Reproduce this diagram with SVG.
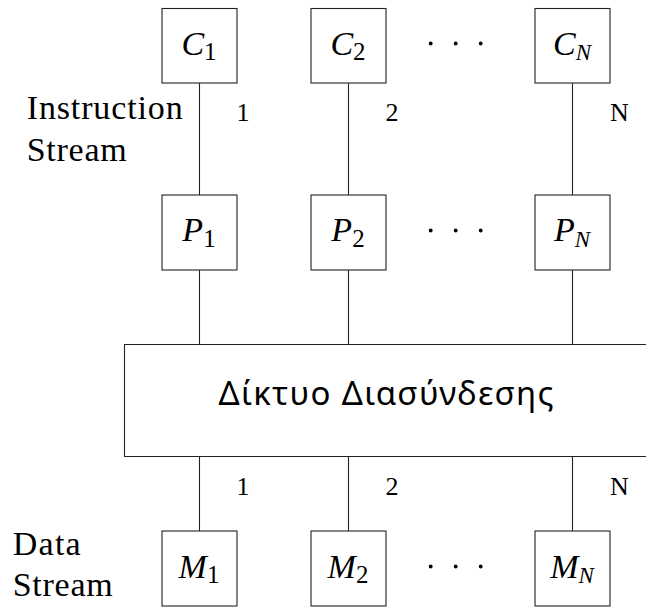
<svg xmlns="http://www.w3.org/2000/svg" width="646" height="607" viewBox="0 0 646 607">
<style>
.box{fill:#fff;stroke:#222;stroke-width:1.1}
.ln{stroke:#222;stroke-width:1.1;fill:none}
.lbl{font-family:'Liberation Serif','DejaVu Serif',serif;font-size:34px;fill:#000}
.num{font-family:'Liberation Serif','DejaVu Serif',serif;font-size:26px;fill:#000;text-anchor:middle}
.math{font-family:'Liberation Serif','DejaVu Serif',serif;font-size:34px;font-style:italic;fill:#000;text-anchor:middle}
.sub{font-size:25px;font-style:normal}
.subi{font-size:23px;font-style:italic}
.net{font-family:'Noto Sans','DejaVu Sans',sans-serif;font-size:33px;fill:#000;text-anchor:middle}
.dot{fill:#000}
</style>
<rect width="646" height="607" fill="#fff"/>
<g id="connectors">
<line class="ln" x1="199.5" y1="83" x2="199.5" y2="195"/>
<line class="ln" x1="348.5" y1="83" x2="348.5" y2="195"/>
<line class="ln" x1="572.5" y1="83" x2="572.5" y2="195"/>
<line class="ln" x1="199.5" y1="270" x2="199.5" y2="344.5"/>
<line class="ln" x1="348.5" y1="270" x2="348.5" y2="344.5"/>
<line class="ln" x1="572.5" y1="270" x2="572.5" y2="344.5"/>
<line class="ln" x1="199.5" y1="456.5" x2="199.5" y2="531"/>
<line class="ln" x1="348.5" y1="456.5" x2="348.5" y2="531"/>
<line class="ln" x1="572.5" y1="456.5" x2="572.5" y2="531"/>
<text class="num" x="243" y="121">1</text>
<text class="num" x="392" y="121">2</text>
<text class="num" x="619.5" y="121">N</text>
<text class="num" x="243" y="494.5">1</text>
<text class="num" x="392" y="494.5">2</text>
<text class="num" x="619.5" y="494.5">N</text>
</g>
<g id="labels">
<text class="lbl" x="26.7" y="119" textLength="156" lengthAdjust="spacing">Instruction</text>
<text class="lbl" x="26.7" y="161" textLength="100" lengthAdjust="spacing">Stream</text>
<text class="lbl" x="12.7" y="555" textLength="68" lengthAdjust="spacing">Data</text>
<text class="lbl" x="12.7" y="596" textLength="100" lengthAdjust="spacing">Stream</text>
</g>
<g id="C1"><rect class="box" x="162" y="8.5" width="75" height="74.5"/><text class="math" x="199" y="55">C<tspan class="sub" dy="5">1</tspan></text></g>
<g id="C2"><rect class="box" x="311" y="8.5" width="75" height="74.5"/><text class="math" x="348" y="55">C<tspan class="sub" dy="5">2</tspan></text></g>
<g id="CN"><rect class="box" x="535" y="8.5" width="75" height="74.5"/><text class="math" x="572" y="55">C<tspan class="subi" dy="5">N</tspan></text></g>
<g id="Cdots"><circle class="dot" cx="430.7" cy="43.5" r="1.9"/><circle class="dot" cx="455.7" cy="43.5" r="1.9"/><circle class="dot" cx="480.7" cy="43.5" r="1.9"/></g>
<g id="P1"><rect class="box" x="162" y="195" width="75" height="75"/><text class="math" x="199" y="241">P<tspan class="sub" dy="6">1</tspan></text></g>
<g id="P2"><rect class="box" x="311" y="195" width="75" height="75"/><text class="math" x="348" y="241">P<tspan class="sub" dy="6">2</tspan></text></g>
<g id="PN"><rect class="box" x="535" y="195" width="75" height="75"/><text class="math" x="572" y="241">P<tspan class="subi" dy="6">N</tspan></text></g>
<g id="Pdots"><circle class="dot" cx="430.7" cy="230.5" r="1.9"/><circle class="dot" cx="455.7" cy="230.5" r="1.9"/><circle class="dot" cx="480.7" cy="230.5" r="1.9"/></g>
<g id="network"><path class="ln" d="M647 344.5 H124.5 V456.5 H647"/><text class="net" x="386" y="405" textLength="335" lengthAdjust="spacing">Δίκτυο Διασύνδεσης</text></g>
<g id="M1"><rect class="box" x="162" y="531" width="75" height="75"/><text class="math" x="199" y="577.5">M<tspan class="sub" dy="5">1</tspan></text></g>
<g id="M2"><rect class="box" x="311" y="531" width="75" height="75"/><text class="math" x="348" y="577.5">M<tspan class="sub" dy="5">2</tspan></text></g>
<g id="MN"><rect class="box" x="535" y="531" width="75" height="75"/><text class="math" x="572" y="577.5">M<tspan class="subi" dy="5">N</tspan></text></g>
<g id="Mdots"><circle class="dot" cx="430.7" cy="566.5" r="1.9"/><circle class="dot" cx="455.7" cy="566.5" r="1.9"/><circle class="dot" cx="480.7" cy="566.5" r="1.9"/></g>
</svg>
